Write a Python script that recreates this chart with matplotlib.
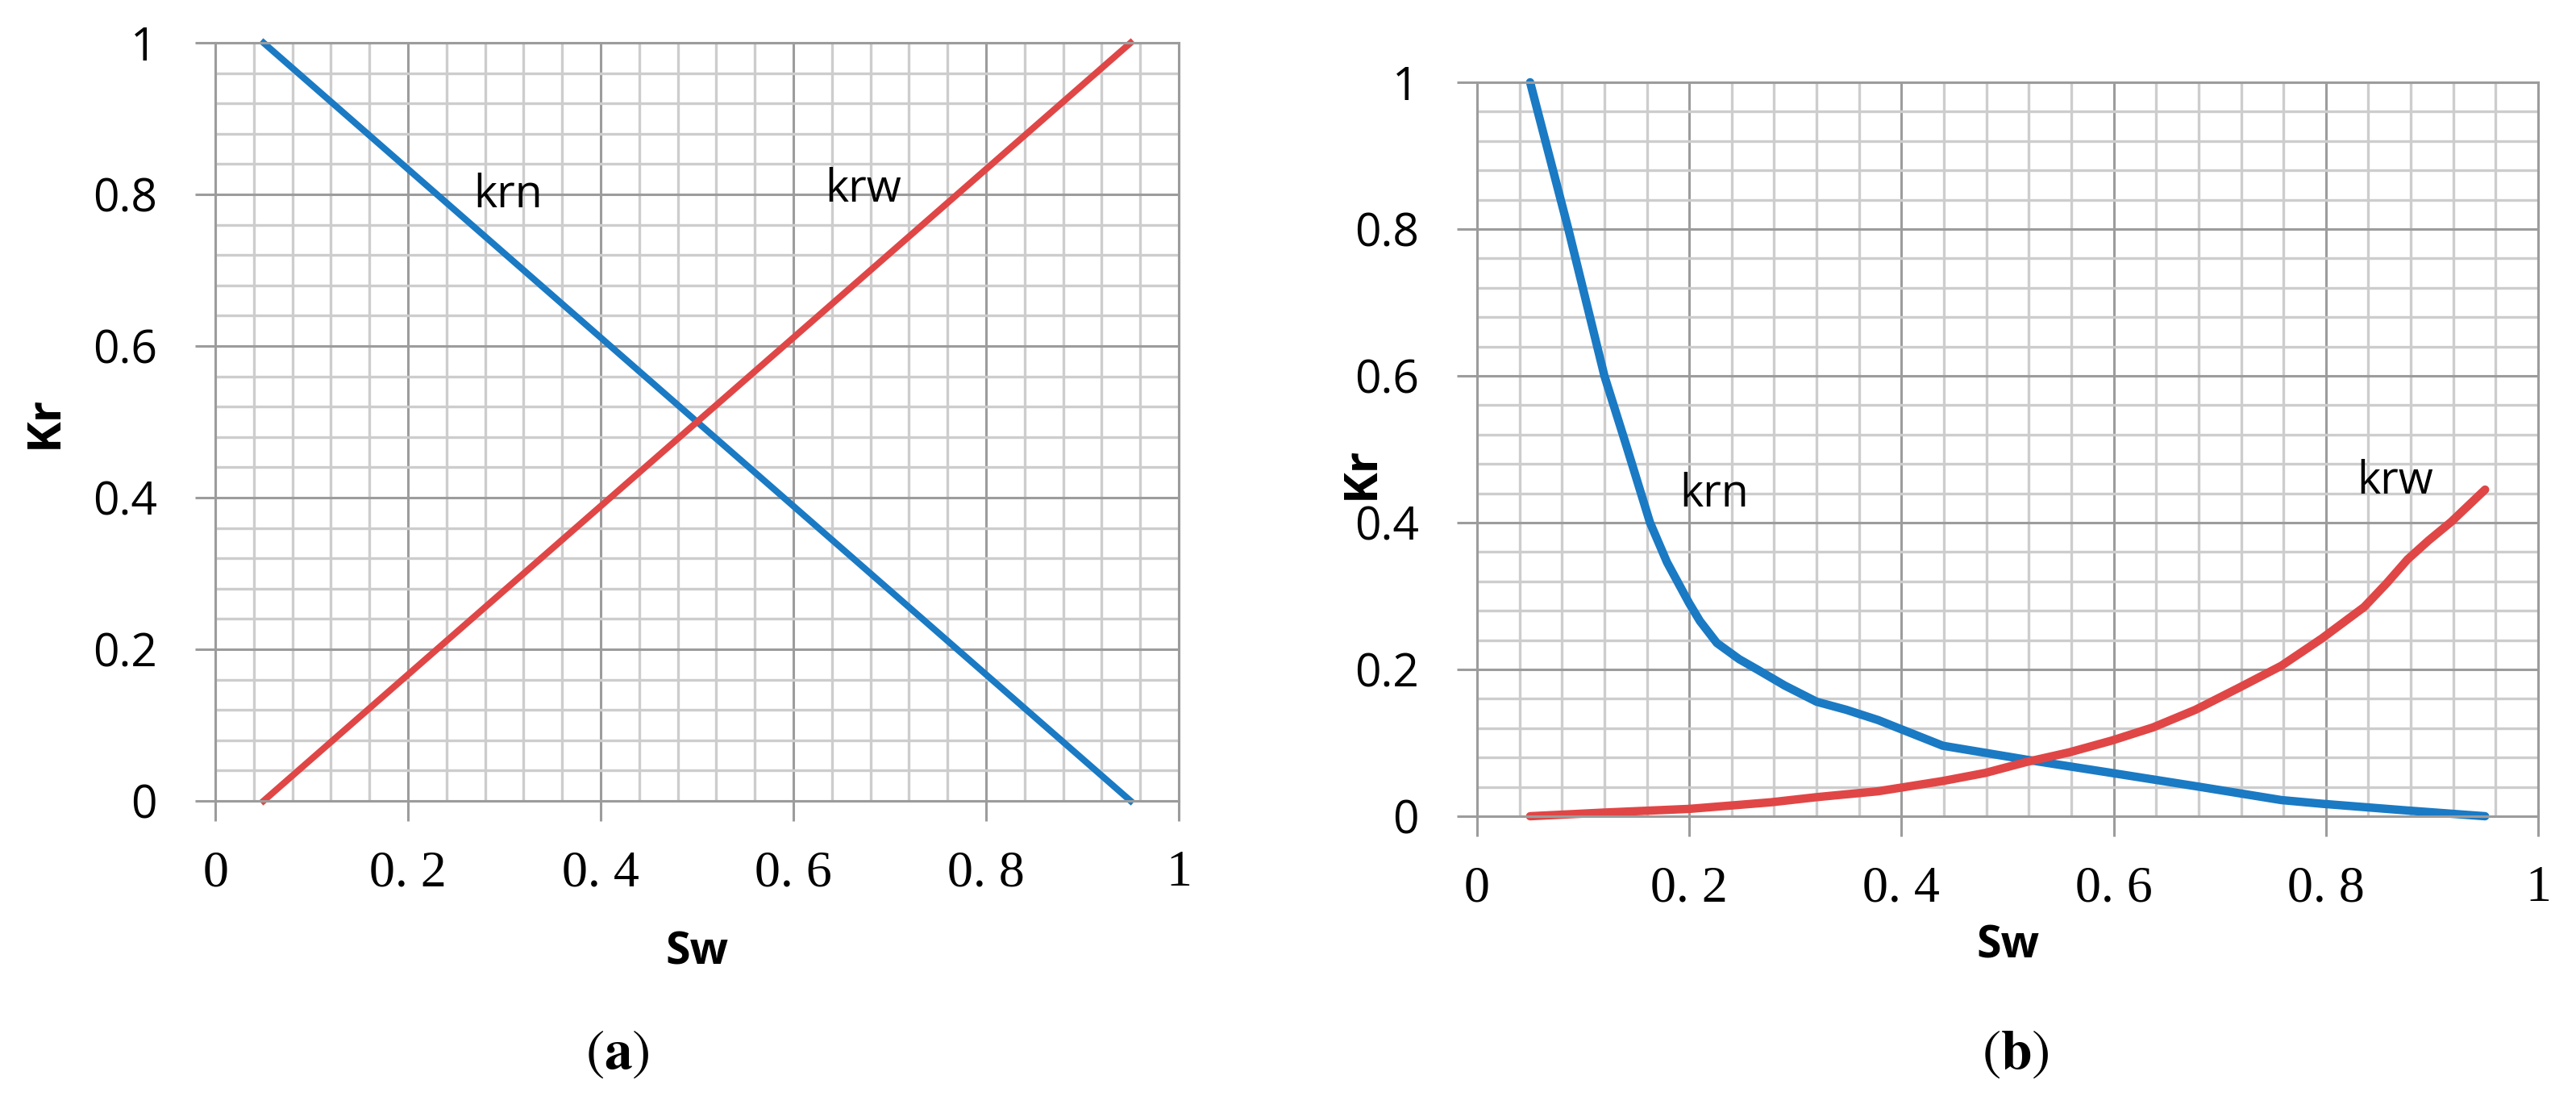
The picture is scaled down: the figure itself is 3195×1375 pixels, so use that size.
import matplotlib
matplotlib.use('Agg')
import matplotlib.pyplot as plt
from matplotlib.ticker import MultipleLocator

# (a) linear relative permeability
sw_a = [0.05, 0.95]
krn_a = [1.0, 0.0]
krw_a = [0.0, 1.0]

# (b) curved relative permeability
sw_bn = [0.05, 0.086, 0.12, 0.14, 0.163, 0.179, 0.2, 0.21, 0.226, 0.247,
         0.264, 0.29, 0.32, 0.348, 0.378, 0.439, 0.518, 0.598, 0.677,
         0.758, 0.796, 0.875, 0.95]
krn_b = [1.0, 0.8, 0.6, 0.508, 0.4, 0.346, 0.29, 0.266, 0.236, 0.214,
         0.2, 0.178, 0.156, 0.145, 0.131, 0.096, 0.077, 0.059, 0.041,
         0.022, 0.017, 0.008, 0.0]
sw_bw = [0.05, 0.12, 0.2, 0.277, 0.32, 0.378, 0.439, 0.479, 0.518, 0.558,
         0.598, 0.637, 0.677, 0.718, 0.758, 0.796, 0.836, 0.857, 0.877,
         0.897, 0.918, 0.95]
krw_b = [0.0, 0.005, 0.01, 0.019, 0.026, 0.034, 0.048, 0.059, 0.074, 0.087,
         0.103, 0.121, 0.145, 0.175, 0.205, 0.242, 0.285, 0.317, 0.35,
         0.376, 0.401, 0.445]

xticks = [0, 0.2, 0.4, 0.6, 0.8, 1.0]
xlabels = ['0', '0. 2', '0. 4', '0. 6', '0. 8', '1']
yticks = [0, 0.2, 0.4, 0.6, 0.8, 1.0]
ylabels = ['0', '0.2', '0.4', '0.6', '0.8', '1']

blue = '#1a7ac4'
red = '#e04646'
major_c = '#9c9c9c'
minor_c = '#cdcdcd'

sans = 'Open Sans'

fig = plt.figure(figsize=(31.95, 13.75), dpi=100)
ax1 = fig.add_axes([0.0836, 0.2778, 0.374, 0.6836])
ax2 = fig.add_axes([0.5734, 0.264, 0.4119, 0.6618])


def style(ax, kr_xy, sw_y):
    ax.set_xlim(0, 1)
    ax.set_ylim(0, 1)
    ax.xaxis.set_minor_locator(MultipleLocator(0.04))
    ax.yaxis.set_minor_locator(MultipleLocator(0.04))
    ax.set_xticks(xticks, xlabels, family='Liberation Serif', fontsize=46)
    ax.set_yticks(yticks, ylabels, family=sans, fontsize=41)
    ax.grid(which='minor', color=minor_c, lw=2.4)
    ax.grid(which='major', color=major_c, lw=2.2)
    ax.set_axisbelow(True)
    ax.tick_params(which='major', length=18, width=2.2, color=major_c)
    ax.tick_params(axis='x', which='major', pad=26)
    ax.tick_params(axis='y', which='major', pad=34)
    ax.tick_params(which='minor', length=0)
    for s in ax.spines.values():
        s.set_color(major_c)
        s.set_linewidth(2.2)
    ax.set_ylabel('Kr', family=sans, fontsize=42, fontweight='bold')
    ax.yaxis.label.set_va('center')
    ax.yaxis.set_label_coords(*kr_xy)
    ax.set_xlabel('Sw', family=sans, fontsize=40, fontweight='bold')
    ax.xaxis.label.set_va('center')
    ax.xaxis.set_label_coords(0.5, sw_y)


style(ax1, (-0.177, 0.5), -0.2)
style(ax2, (-0.109, 0.468), -0.177)

ax1.plot(sw_a, krn_a, color=blue, lw=5.8, clip_on=False)
ax1.plot(sw_a, krw_a, color=red, lw=5.8, clip_on=False)
ax1.text(0.268, 0.783, 'krn', family=sans, fontsize=40, va='baseline')
ax1.text(0.633, 0.79, 'krw', family=sans, fontsize=40, va='baseline')

ax2.plot(sw_bn, krn_b, color=blue, lw=7.5, clip_on=False,
         solid_capstyle='round', solid_joinstyle='round')
ax2.plot(sw_bw, krw_b, color=red, lw=7.5, clip_on=False,
         solid_capstyle='round', solid_joinstyle='round')
ax2.text(0.191, 0.422, 'krn', family=sans, fontsize=40, va='baseline')
ax2.text(0.829, 0.44, 'krw', family=sans, fontsize=40, va='baseline')

plt.rcParams['mathtext.fontset'] = 'stix'
fig.text(0.2397, 0.049, r'($\mathbf{a}$)', family='STIXGeneral',
         fontsize=50, ha='center', va='center')
fig.text(0.7825, 0.049, r'($\mathbf{b}$)', family='STIXGeneral',
         fontsize=50, ha='center', va='center')

fig.savefig('out.png', dpi=100)
